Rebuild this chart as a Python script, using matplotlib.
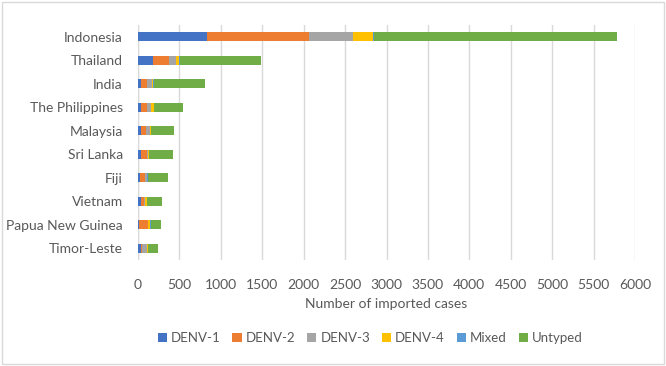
import matplotlib.pyplot as plt
import matplotlib.patches as patches
import numpy as np

countries = ["Indonesia", "Thailand", "India", "The Philippines", "Malaysia",
             "Sri Lanka", "Fiji", "Vietnam", "Papua New Guinea", "Timor-Leste"]
denv1 = [830, 180, 40, 40, 40, 40, 30, 40, 15, 40]
denv2 = [1230, 190, 70, 70, 60, 70, 60, 35, 100, 10]
denv3 = [540, 90, 60, 50, 50, 5, 15, 5, 5, 60]
denv4 = [240, 40, 15, 30, 5, 15, 5, 25, 28, 5]
mixed = [5, 5, 5, 5, 5, 5, 5, 5, 5, 5]
untyped = [2935, 975, 615, 354, 275, 290, 250, 185, 127, 125]

series = [("DENV-1", denv1, "#4472C4"), ("DENV-2", denv2, "#ED7D31"),
          ("DENV-3", denv3, "#A5A5A5"), ("DENV-4", denv4, "#FFC000"),
          ("Mixed", mixed, "#5B9BD5"), ("Untyped", untyped, "#70AD47")]

plt.rcParams["font.family"] = ["Lato", "DejaVu Sans"]
text_col = "#595959"

fig = plt.figure(figsize=(6.66, 3.66), dpi=100)
ax = fig.add_axes([138 / 666, 1 - 260 / 366, (635 - 138) / 666, (260 - 25) / 366])

y = np.arange(len(countries))
left = np.zeros(len(countries))
for name, vals, col in series:
    ax.barh(y, vals, left=left, height=0.4, color=col, label=name, zorder=3)
    left += np.array(vals)

ax.set_ylim(len(countries) - 0.5, -0.5)
ax.set_yticks(y)
ax.set_yticklabels(countries, fontsize=10, color=text_col)
ax.set_xlim(0, 6000)
ax.set_xticks(np.arange(0, 6001, 500))
ax.tick_params(axis="x", labelsize=10, labelcolor=text_col, length=0, pad=14)
ax.tick_params(axis="y", length=0, pad=11)
ax.grid(axis="x", color="#D9D9D9", linewidth=1, zorder=0)
for s in ax.spines.values():
    s.set_visible(False)
ax.axvline(0, color="#D9D9D9", linewidth=1, zorder=1)
ax.set_xlabel("Number of imported cases", fontsize=10, color=text_col, labelpad=5)

fig.legend(loc="center", bbox_to_anchor=(370 / 666, 1 - 338 / 366), ncol=6,
           frameon=False, fontsize=9.5, handlelength=0.7, handleheight=0.7,
           handletextpad=0.3, columnspacing=0.9, labelcolor=text_col)

fig.patches.append(patches.Rectangle((0.003, 0.005), 0.994, 0.99, transform=fig.transFigure,
                                     fill=False, edgecolor="#D9D9D9", linewidth=1))

fig.savefig("out.png", dpi=100)
